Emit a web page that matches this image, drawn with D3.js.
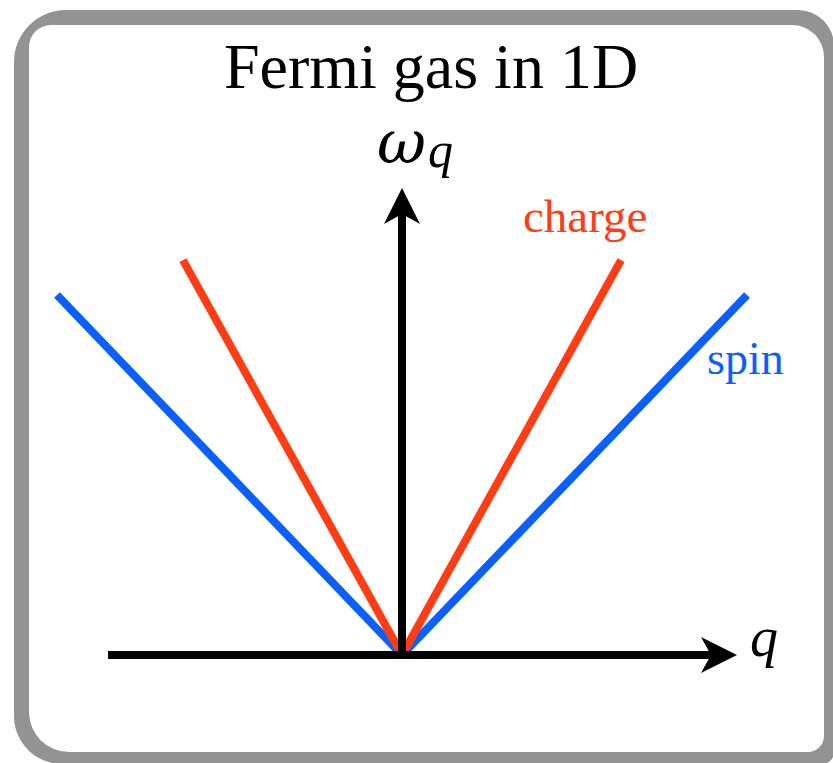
<!DOCTYPE html>
<html>
<head>
<meta charset="utf-8">
<script src="https://cdn.jsdelivr.net/npm/d3@7/dist/d3.min.js"></script>
<style>
  html, body { margin: 0; padding: 0; background: #fff; }
  svg { display: block; }
</style>
</head>
<body>
<svg id="chart" width="833" height="763"></svg>
<script>
// ---- data ----
const title = "Fermi gas in 1D";
const seriesNames = ["spin", "charge"];
const spinQ = [-1, 0, 1];
const spinOmega = [1, 0, 1];
const chargeQ = [-0.635, 0, 0.635];
const chargeOmega = [1.097, 0, 1.097];
const qAxisExtent = [-0.852, 0.971];
const omegaAxisExtent = [0, 1.297];

const svg = d3.select("#chart");

function roundRect(x, y, w, h, r) {
  const [tl, tr, br, bl] = r;
  return `M${x + tl},${y} H${x + w - tr} A${tr},${tr} 0 0 1 ${x + w},${y + tr}
    V${y + h - br} A${br},${br} 0 0 1 ${x + w - br},${y + h}
    H${x + bl} A${bl},${bl} 0 0 1 ${x},${y + h - bl}
    V${y + tl} A${tl},${tl} 0 0 1 ${x + tl},${y} Z`;
}

// frame
svg.append("path").attr("d", roundRect(14, 10, 820, 754, [52, 36, 12, 48])).attr("fill", "#939393");
svg.append("path").attr("d", roundRect(29, 25, 795, 727, [22, 32, 16, 40])).attr("fill", "#ffffff");

const x = d3.scaleLinear().domain([-1, 1]).range([57, 747]);
const y = d3.scaleLinear().domain([0, 1]).range([655, 295]);

const line = d3.line().x(d => x(d[0])).y(d => y(d[1]));

const series = [
  { name: "spin", q: spinQ, w: spinOmega, color: "#0b5ffd" },
  { name: "charge", q: chargeQ, w: chargeOmega, color: "#ff3d14" }
];

series.forEach(s => {
  const pts = s.q.map((q, i) => [q, s.w[i]]);
  svg.append("path")
    .attr("d", line(pts))
    .attr("fill", "none")
    .attr("stroke", s.color)
    .attr("stroke-width", 8)
    .attr("stroke-linejoin", "bevel");
});

// axes with arrowheads
const axisColor = "#000";
// horizontal
const hx0 = x(qAxisExtent[0]), hx1 = x(qAxisExtent[1]), hy = y(0);
svg.append("line").attr("x1", hx0).attr("x2", hx1 - 20).attr("y1", hy).attr("y2", hy)
  .attr("stroke", axisColor).attr("stroke-width", 8);
svg.append("path")
  .attr("d", `M${hx1},${hy} L${hx1 - 36},${hy - 18} L${hx1 - 26},${hy} L${hx1 - 36},${hy + 18} Z`)
  .attr("fill", axisColor);
// vertical
const vx = x(0), vy0 = y(omegaAxisExtent[0]), vy1 = y(omegaAxisExtent[1]);
svg.append("line").attr("x1", vx).attr("x2", vx).attr("y1", vy0).attr("y2", vy1 + 20)
  .attr("stroke", axisColor).attr("stroke-width", 8);
svg.append("path")
  .attr("d", `M${vx},${vy1} L${vx - 18},${vy1 + 36} L${vx},${vy1 + 26} L${vx + 18},${vy1 + 36} Z`)
  .attr("fill", axisColor);

// labels
const serif = "'Liberation Serif', 'Times New Roman', serif";
svg.append("text").attr("x", 431).attr("y", 88).attr("text-anchor", "middle")
  .attr("font-family", serif).attr("font-size", 64).attr("fill", "#000").text(title);

svg.append("text").attr("x", 750).attr("y", 656)
  .attr("font-family", serif).attr("font-style", "italic").attr("font-size", 56).attr("fill", "#000").text("q");

const wl = svg.append("text").attr("x", 377).attr("y", 163)
  .attr("font-family", "'DejaVu Serif', serif").attr("font-style", "italic").attr("font-size", 60).attr("fill", "#000");
wl.append("tspan").text("ω");
wl.append("tspan").attr("font-family", serif).attr("font-size", 50).attr("dy", 4).attr("dx", 2).text("q");

svg.append("text").attr("x", 523).attr("y", 232)
  .attr("font-family", serif).attr("font-size", 47).attr("fill", series[1].color).text(seriesNames[1]);
svg.append("text").attr("x", 707).attr("y", 374)
  .attr("font-family", serif).attr("font-size", 46).attr("fill", series[0].color).text(seriesNames[0]);
</script>
</body>
</html>
